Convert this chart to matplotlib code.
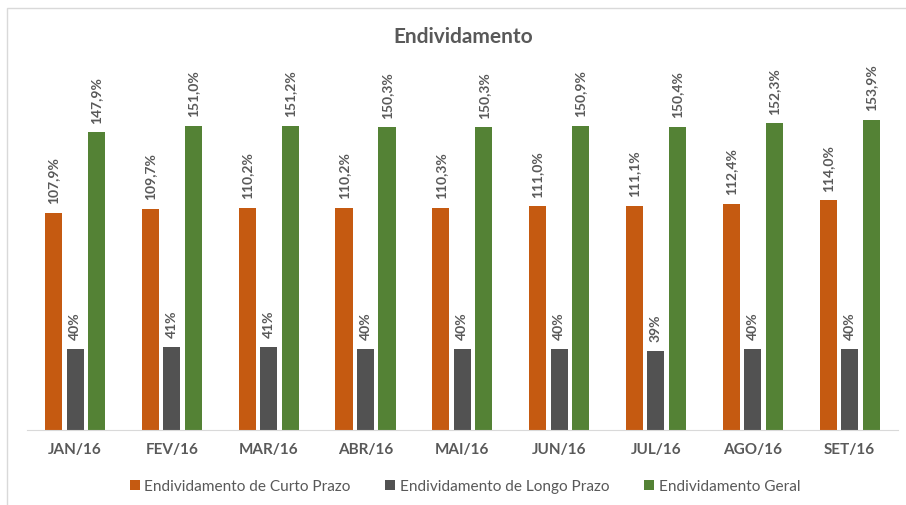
import matplotlib
matplotlib.use("Agg")
import numpy as np
import matplotlib.pyplot as plt
from matplotlib.patches import Rectangle

# --- data ---
months = ["JAN/16", "FEV/16", "MAR/16", "ABR/16", "MAI/16", "JUN/16", "JUL/16", "AGO/16", "SET/16"]
curto  = [107.9, 109.7, 110.2, 110.2, 110.3, 111.0, 111.1, 112.4, 114.0]
longo  = [40, 41, 41, 40, 40, 40, 39, 40, 40]
geral  = [147.9, 151.0, 151.2, 150.3, 150.3, 150.9, 150.4, 152.3, 153.9]

series_names = ["Endividamento de Curto Prazo", "Endividamento de Longo Prazo", "Endividamento Geral"]
colors       = ["#C55A11", "#525252", "#548235"]
TEXT         = "#595959"

plt.rcParams["font.family"] = ["Lato", "DejaVu Sans"]

fig = plt.figure(figsize=(9.06, 5.06), dpi=100)
ax = fig.add_axes([0.0294, 0.1492, 0.9618, 0.715])

x = np.arange(len(months))
width = 0.176
step = 0.222

for k, (vals, col) in enumerate(zip([curto, longo, geral], colors)):
    pos = x + (k - 1) * step
    ax.bar(pos, vals, width=width, color=col, label=series_names[k])
    for p, v in zip(pos, vals):
        txt = f"{v:.1f}%".replace(".", ",") if k != 1 else f"{v:.0f}%"
        ax.annotate(txt, (p, v), xytext=(0, 7), textcoords="offset points",
                    rotation=90, ha="center", va="bottom", fontsize=10,
                    fontweight="bold", color=TEXT)

ax.set_xlim(-0.5, len(months) - 0.5)
ax.set_ylim(0, 180)
ax.set_xticks(x)
ax.set_xticklabels(months, fontsize=11, fontweight="bold", color=TEXT)
ax.tick_params(axis="x", length=0, pad=9)
ax.set_yticks([])
for side in ["top", "left", "right"]:
    ax.spines[side].set_visible(False)
ax.spines["bottom"].set_color("#D9D9D9")

fig.text(463 / 906, 0.927, "Endividamento", ha="center", va="center",
         fontsize=15, fontweight="bold", color=TEXT)

leg = fig.legend(loc="center", bbox_to_anchor=(465 / 906, 0.037), ncol=3, frameon=False,
                 fontsize=11.1, handlelength=0.65, handleheight=0.65, handletextpad=0.3,
                 columnspacing=2.25)
for t in leg.get_texts():
    t.set_color(TEXT)

fig.patches.append(Rectangle((7 / 906, -0.1), 1.2, 1 - 9 / 506 + 0.1, transform=fig.transFigure,
                             fill=False, edgecolor="#D9D9D9", linewidth=1))

fig.savefig("out.png", dpi=100)
